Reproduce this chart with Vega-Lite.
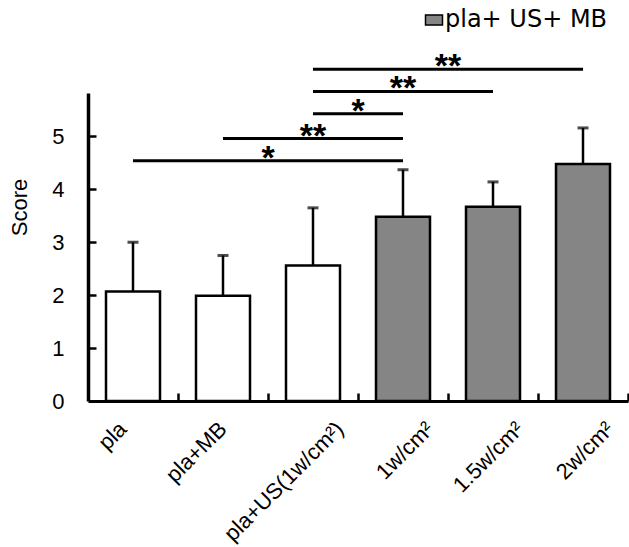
{
  "$schema": "https://vega.github.io/schema/vega-lite/v6.json",
  "width": 540,
  "height": 308,
  "autosize": {"type": "none"},
  "padding": {"left": 88, "top": 93, "right": 1, "bottom": 146},
  "background": "white",
  "config": {
    "view": {"stroke": null},
    "font": "Liberation Sans",
    "axis": {"domainColor": "black", "tickColor": "black", "labelColor": "black", "titleColor": "black", "grid": false},
    "axisXBand": {
      "ticks": false, "domainWidth": 3, "labelAngle": -45,
      "labelFontSize": 22, "labelFontWeight": "normal", "labelPadding": 17
    }
  },
  "datasets": {
    "bars": [
      {"cond": "pla", "mean": 2.07, "upper": 3.0, "type": "ctrl"},
      {"cond": "pla+MB", "mean": 1.99, "upper": 2.75, "type": "ctrl"},
      {"cond": "pla+US(1w/cm²)", "mean": 2.56, "upper": 3.65, "type": "ctrl"},
      {"cond": "1w/cm²", "mean": 3.48, "upper": 4.37, "type": "pla+ US+ MB"},
      {"cond": "1.5w/cm²", "mean": 3.67, "upper": 4.14, "type": "pla+ US+ MB"},
      {"cond": "2w/cm²", "mean": 4.48, "upper": 5.16, "type": "pla+ US+ MB"}
    ],
    "sig": [
      {"from": 3, "to": 6, "y": 6.27, "sig": "**"},
      {"from": 3, "to": 5, "y": 5.85, "sig": "**"},
      {"from": 3, "to": 4, "y": 5.43, "sig": "*"},
      {"from": 2, "to": 4, "y": 4.96, "sig": "**"},
      {"from": 1, "to": 4, "y": 4.54, "sig": "*"}
    ]
  },
  "layer": [
    {
      "data": {"name": "bars"},
      "encoding": {
        "x": {
          "field": "cond", "type": "nominal", "sort": null,
          "scale": {"paddingInner": 0.4, "paddingOuter": 0.2},
          "axis": {
            "title": null,
            "labelOffset": {"condition": [
              {"test": "datum.value == 'pla'", "value": -17},
              {"test": "datum.value == 'pla+MB'", "value": -7}
            ], "value": 20}
          }
        }
      },
      "layer": [
        {
          "mark": {"type": "rule", "strokeWidth": 2.5, "color": "black"},
          "encoding": {
            "y": {
              "field": "mean", "type": "quantitative",
              "scale": {"domain": [0, 5.82], "nice": false},
              "axis": {
                "values": [0, 1, 2, 3, 4, 5], "ticks": false, "domainWidth": 3.5,
                "labelFontSize": 22, "labelPadding": 24,
                "title": "Score", "titleFontSize": 22, "titleFontWeight": "normal",
                "titleX": -57, "titleY": 114
              }
            },
            "y2": {"field": "upper"}
          }
        },
        {
          "mark": {"type": "tick", "thickness": 3, "size": 11, "color": "black"},
          "encoding": {
            "y": {"field": "upper", "type": "quantitative", "scale": {"domain": [0, 5.82], "nice": false}}
          }
        },
        {
          "mark": {"type": "bar", "stroke": "black", "strokeWidth": 2.5},
          "encoding": {
            "y": {"field": "mean", "type": "quantitative", "scale": {"domain": [0, 5.82], "nice": false}},
            "color": {
              "field": "type", "type": "nominal",
              "scale": {"domain": ["pla+ US+ MB", "ctrl"], "range": ["#858585", "white"]},
              "legend": {
                "values": ["pla+ US+ MB"], "title": null, "orient": "none",
                "legendX": 334, "legendY": -85, "padding": 0,
                "symbolType": "M-1,-0.6H1V0.6H-1Z", "symbolSize": 289,
                "symbolStrokeColor": "black", "symbolStrokeWidth": 1.5,
                "labelFontSize": 24, "labelFont": "DejaVu Sans", "labelColor": "black",
                "labelOffset": -1, "labelLimit": 400
              }
            }
          }
        }
      ]
    },
    {
      "data": {"name": "sig"},
      "layer": [
        {
          "mark": {"type": "rule", "strokeWidth": 3, "color": "black"},
          "encoding": {
            "x": {
              "field": "from", "type": "quantitative",
              "scale": {"domain": [0.5, 6.5], "nice": false, "zero": false},
              "axis": {
                "orient": "top", "offset": -308, "values": [1.5, 2.5, 3.5, 4.5, 5.5, 6.5],
                "labels": false, "domain": false, "ticks": true, "tickSize": 8, "tickWidth": 2.5, "title": null
              }
            },
            "x2": {"field": "to"},
            "y": {
              "field": "y", "type": "quantitative", "scale": {"domain": [0, 5.82], "nice": false},
              "axis": {
                "orient": "right", "offset": -540, "values": [1, 2, 3, 4, 5],
                "labels": false, "domain": false, "ticks": true, "tickSize": 8, "tickWidth": 2.5, "title": null
              }
            }
          }
        },
        {
          "transform": [{"fold": ["from", "to"], "as": ["end", "pos"]}],
          "mark": {"type": "text", "fontSize": 34, "fontWeight": "bold", "baseline": "alphabetic", "dy": 8, "color": "black"},
          "encoding": {
            "x": {"aggregate": "mean", "field": "pos", "type": "quantitative", "scale": {"domain": [0.5, 6.5], "nice": false, "zero": false}},
            "y": {"field": "y", "type": "quantitative", "scale": {"domain": [0, 5.82], "nice": false}},
            "text": {"field": "sig"}
          }
        }
      ]
    }
  ],
  "resolve": {"scale": {"x": "independent"}, "axis": {"y": "independent"}}
}
